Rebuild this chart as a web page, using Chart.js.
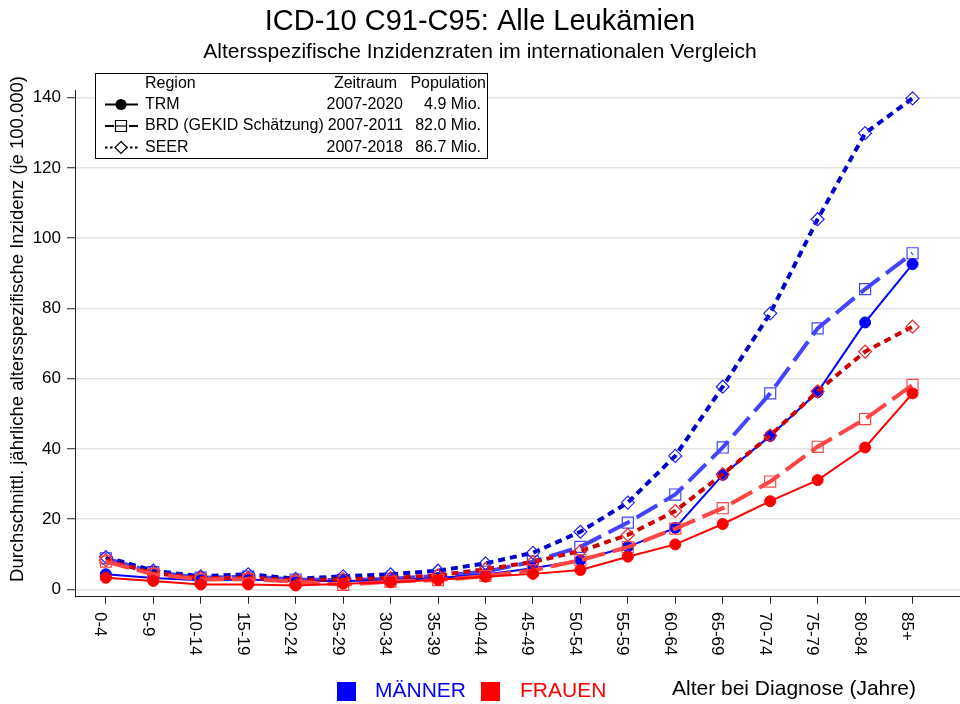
<!DOCTYPE html>
<html>
<head>
<meta charset="utf-8">
<script src="https://cdn.jsdelivr.net/npm/chart.js@4.4.1/dist/chart.umd.min.js"></script>
<style>
  body { margin: 0; background: #fff; }
  canvas { display: block; }
</style>
</head>
<body>
<canvas id="chart" width="960" height="704"></canvas>
<script>
// Altersgruppen (x-Achse)
const altersgruppen = ['0-4', '5-9', '10-14', '15-19', '20-24', '25-29', '30-34', '35-39', '40-44',
  '45-49', '50-54', '55-59', '60-64', '65-69', '70-74', '75-79', '80-84', '85+'];

// Inzidenz je 100.000
const maennerTRM  = [4.3, 3.2, 2.6, 2.8, 2.3, 2.4, 2.6, 3.2, 4.2, 6.0, 8.3, 12.1, 17.5, 32.6, 43.7, 56.2, 76.0, 92.6];
const maennerBRD  = [8.8, 4.9, 3.3, 3.6, 2.8, 2.6, 3.0, 3.8, 5.0, 7.9, 12.1, 19.0, 27.0, 40.4, 55.8, 74.3, 85.5, 95.7];
const maennerSEER = [9.2, 5.3, 3.7, 4.3, 3.0, 3.7, 4.3, 5.3, 7.4, 10.4, 16.4, 24.7, 38.0, 57.7, 78.6, 105.4, 129.9, 139.8];
const frauenTRM   = [3.3, 2.4, 1.4, 1.4, 1.1, 1.6, 2.0, 2.7, 3.6, 4.4, 5.5, 9.3, 12.8, 18.6, 25.1, 31.1, 40.4, 55.8];
const frauenBRD   = [7.9, 4.3, 2.8, 2.9, 2.2, 1.3, 2.2, 2.6, 3.8, 5.4, 8.3, 12.0, 17.3, 23.1, 30.7, 40.6, 48.5, 58.2];
const frauenSEER  = [8.3, 4.6, 3.2, 3.3, 2.6, 2.9, 3.2, 4.0, 5.7, 7.8, 10.9, 15.5, 22.3, 32.8, 43.8, 56.4, 67.7, 74.8];

const yTicks = [0, 20, 40, 60, 80, 100, 120, 140];

// Legendentabelle
const legendRegion = ['TRM', 'BRD (GEKID Schätzung)', 'SEER'];
const legendZeitraum = ['2007-2020', '2007-2011', '2007-2018'];
const legendPopulation = ['4.9 Mio.', '82.0 Mio.', '86.7 Mio.'];

const FONT = "'Liberation Sans', Arial, sans-serif";
Chart.defaults.font.family = FONT;
Chart.defaults.color = '#000';

function toPoints(values) {
  return values.map((v, i) => ({ x: i, y: v }));
}

function trm(label, values, color) {
  return {
    label, data: toPoints(values),
    borderColor: color, borderWidth: 2,
    pointStyle: 'circle', pointRadius: 5.5,
    pointBackgroundColor: color, pointBorderColor: color, pointBorderWidth: 1,
  };
}

function brd(label, values, color) {
  return {
    label, data: toPoints(values),
    borderColor: color, borderWidth: 4, borderDash: [24, 8],
    pointStyle: 'rect', pointRadius: 7.8,
    pointBackgroundColor: 'rgba(0,0,0,0)', pointBorderColor: color, pointBorderWidth: 1.2,
  };
}

function seer(label, values, color, markColor) {
  return {
    label, data: toPoints(values),
    borderColor: color, borderWidth: 4, borderDash: [7, 5],
    pointStyle: 'rectRot', pointRadius: 6.5,
    pointBackgroundColor: 'rgba(0,0,0,0)', pointBorderColor: markColor, pointBorderWidth: 1.2,
  };
}

// first dataset is drawn on top
const datasets = [
  trm('Frauen TRM', frauenTRM, '#ff0000'),
  brd('Frauen BRD', frauenBRD, '#ff4444'),
  seer('Frauen SEER', frauenSEER, '#cc0000', '#ee2222'),
  trm('Männer TRM', maennerTRM, '#0000ff'),
  seer('Männer SEER', maennerSEER, '#0000cc', '#2222ee'),
  brd('Männer BRD', maennerBRD, '#4444ff'),
];

function drawMarker(ctx, type, x, y) {
  ctx.save();
  ctx.strokeStyle = '#000';
  ctx.fillStyle = '#000';
  ctx.lineWidth = 1.2;
  ctx.setLineDash([]);
  ctx.beginPath();
  if (type === 0) {
    ctx.arc(x, y, 5.5, 0, Math.PI * 2);
    ctx.fill();
  } else if (type === 1) {
    ctx.fillStyle = '#fff';
    ctx.rect(x - 5.5, y - 5.5, 11, 11);
    ctx.fill();
    ctx.stroke();
    ctx.beginPath();
    ctx.moveTo(x - 5.5, y);
    ctx.lineTo(x + 5.5, y);
    ctx.stroke();
  } else {
    ctx.fillStyle = '#fff';
    ctx.moveTo(x, y - 6);
    ctx.lineTo(x + 6, y);
    ctx.lineTo(x, y + 6);
    ctx.lineTo(x - 6, y);
    ctx.closePath();
    ctx.fill();
    ctx.stroke();
  }
  ctx.restore();
}

const extras = {
  id: 'extras',
  afterDraw(chart) {
    const ctx = chart.ctx;
    const xs = chart.scales.x;

    // x tick labels, rotated clockwise
    ctx.save();
    ctx.fillStyle = '#000';
    ctx.font = '17px ' + FONT;
    ctx.textAlign = 'left';
    ctx.textBaseline = 'alphabetic';
    altersgruppen.forEach((lab, i) => {
      const px = xs.getPixelForValue(i);
      ctx.save();
      ctx.translate(px - 10.5, 612);
      ctx.rotate(Math.PI / 2);
      ctx.fillText(lab, 0, 0);
      ctx.restore();
    });
    ctx.restore();

    // y axis title
    ctx.save();
    ctx.fillStyle = '#000';
    ctx.font = '18.5px ' + FONT;
    ctx.textAlign = 'center';
    ctx.textBaseline = 'middle';
    ctx.translate(18, 329);
    ctx.rotate(-Math.PI / 2);
    ctx.fillText('Durchschnittl. jährliche altersspezifische Inzidenz (je 100.000)', 0, 0);
    ctx.restore();

    // bottom legend and x title
    ctx.save();
    ctx.font = '21px ' + FONT;
    ctx.textBaseline = 'middle';
    ctx.textAlign = 'left';
    ctx.fillStyle = '#0000ff';
    ctx.fillRect(337, 682, 19, 19);
    ctx.fillText('MÄNNER', 375, 691);
    ctx.fillStyle = '#ff0000';
    ctx.fillRect(481, 682, 19, 19);
    ctx.fillText('FRAUEN', 520, 691);
    ctx.fillStyle = '#000';
    ctx.fillText('Alter bei Diagnose (Jahre)', 672, 689);
    ctx.restore();

    // legend table
    ctx.save();
    ctx.fillStyle = '#fff';
    ctx.fillRect(95.5, 73.5, 392, 85);
    ctx.strokeStyle = '#000';
    ctx.lineWidth = 1;
    ctx.strokeRect(95.5, 73.5, 392, 85);
    ctx.fillStyle = '#000';
    ctx.font = '16px ' + FONT;
    ctx.textBaseline = 'middle';
    ctx.textAlign = 'left';
    ctx.fillText('Region', 145, 84);
    ctx.textAlign = 'right';
    ctx.fillText('Zeitraum', 397, 84);
    ctx.fillText('Population', 486, 84);
    const rows = [104.5, 126, 147.5];
    const dashes = [[], [9, 3], [2.5, 2.5]];
    rows.forEach((ry, k) => {
      ctx.save();
      ctx.strokeStyle = '#000';
      ctx.lineWidth = 2;
      ctx.setLineDash(dashes[k]);
      ctx.beginPath();
      ctx.moveTo(105, ry);
      ctx.lineTo(138, ry);
      ctx.stroke();
      ctx.restore();
      drawMarker(ctx, k, 121, ry);
      ctx.textAlign = 'left';
      ctx.fillText(legendRegion[k], 145, ry);
      ctx.textAlign = 'right';
      ctx.fillText(legendZeitraum[k], 403, ry);
      ctx.fillText(legendPopulation[k], 481, ry);
    });
    ctx.restore();
  }
};

new Chart(document.getElementById('chart'), {
  type: 'line',
  data: { datasets },
  plugins: [extras],
  options: {
    responsive: false,
    animation: false,
    layout: { padding: 0, autoPadding: false },
    elements: { line: { tension: 0, fill: false } },
    plugins: {
      legend: { display: false },
      tooltip: { enabled: false },
      title: {
        display: true,
        text: 'ICD-10 C91-C95: Alle Leukämien',
        font: { size: 29, weight: 'normal' },
        color: '#000',
        padding: { top: 4.6, bottom: 0 },
      },
      subtitle: {
        display: true,
        text: 'Altersspezifische Inzidenzraten im internationalen Vergleich',
        font: { size: 21, weight: 'normal' },
        color: '#000',
        padding: { top: 0, bottom: 26.1 },
      },
    },
    scales: {
      x: {
        type: 'linear',
        min: -0.65,
        max: 18,
        afterBuildTicks: (s) => { s.ticks = altersgruppen.map((_, i) => ({ value: i })); },
        afterFit: (s) => { s.height = 704 - 596.7; },
        ticks: { display: false },
        grid: { drawOnChartArea: false, tickLength: 7, tickColor: '#222', tickWidth: 1 },
        border: { color: '#222', width: 1 },
      },
      y: {
        min: -2.1,
        max: 142,
        afterBuildTicks: (s) => { s.ticks = yTicks.map((v) => ({ value: v })); },
        afterFit: (s) => { s.width = 75; },
        ticks: { font: { size: 17 }, color: '#000', padding: 6 },
        grid: { color: '#e4e4e4', lineWidth: 1.5, tickLength: 8, tickColor: '#222', tickWidth: 1 },
        border: { color: '#222', width: 1 },
      },
    },
  },
});
</script>
</body>
</html>
